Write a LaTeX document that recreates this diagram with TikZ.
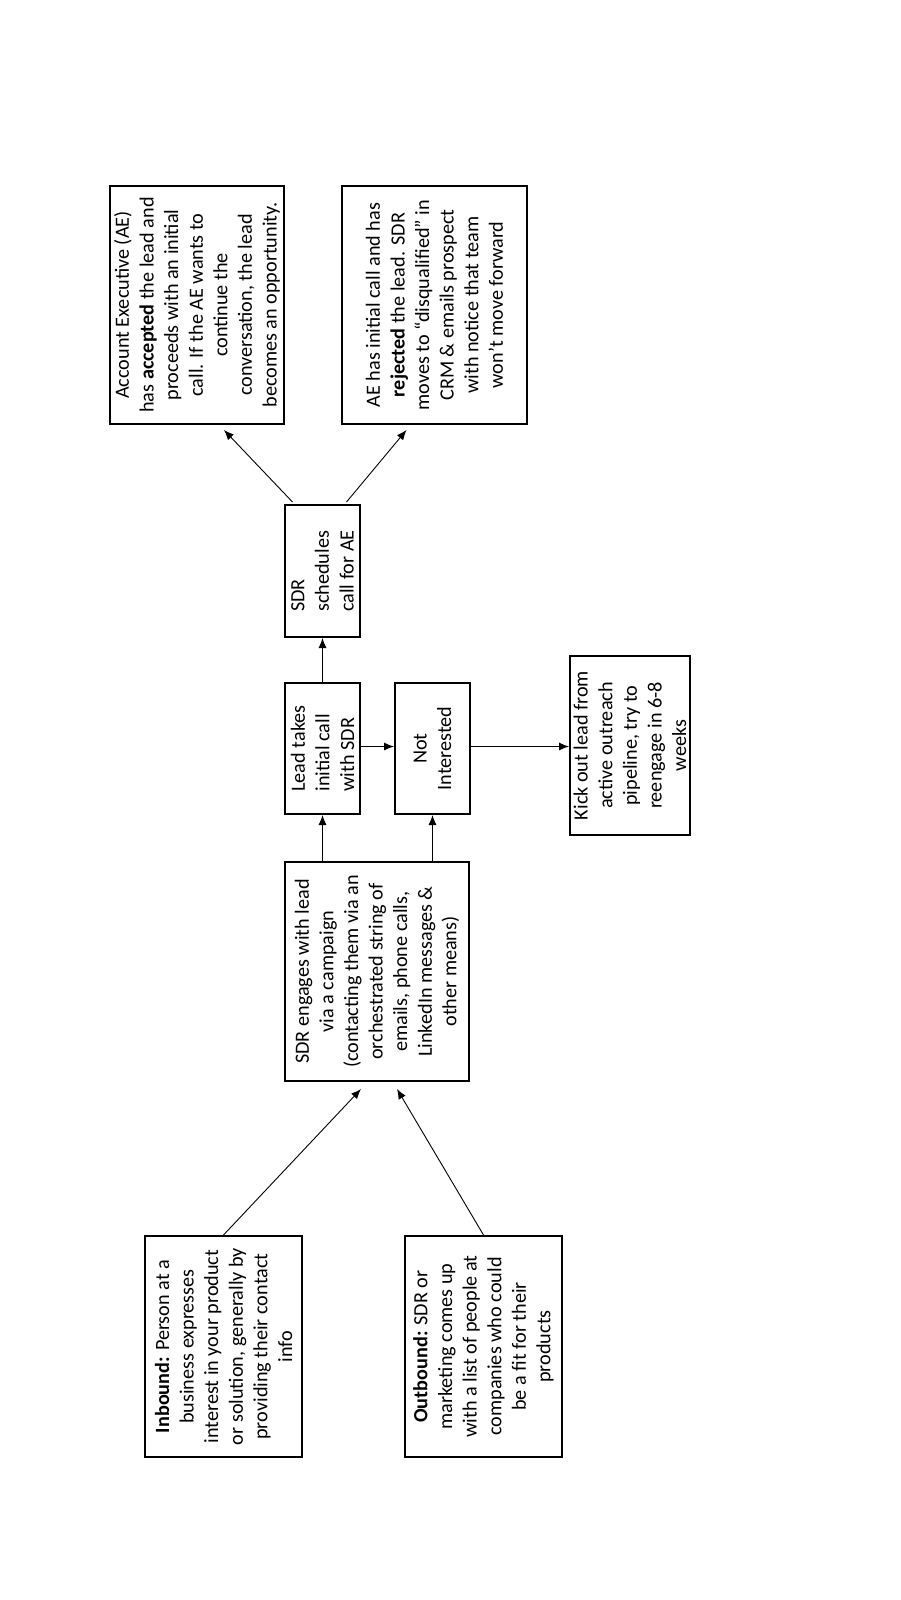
\documentclass[tikz,border=0pt]{standalone}
\usepackage{fontspec}
\setmainfont{Carlito}
\usetikzlibrary{calc,arrows.meta}

\begin{document}
\begin{tikzpicture}[x=1pt,y=-1pt,>={Latex[length=10pt,width=8pt]}]

% page, in pixels of the page image
\useasboundingbox (0,0) rectangle (900,1600);

% looks
\tikzset{
    stepBox/.style={
        draw=black,
        line width=2pt,
        rotate=90,
        inner sep=0pt,
        align=center,
        font=\fontsize{20.2}{24.6}\selectfont,
    },
    flowArrow/.style={->, line width=0.9pt},
}

% lead sources
\node[stepBox, minimum width=221pt, minimum height=157pt] (inbound) at (223.5,1346.5)
    {\textbf{Inbound:} Person at a\\ business expresses\\ interest in your product\\ or solution, generally by\\ providing their contact\\ info};
\node[stepBox, minimum width=221pt, minimum height=157pt] (outbound) at (483.5,1346.5)
    {\textbf{Outbound:} SDR or\\ marketing comes up\\ with a list of people at\\ companies who could\\ be a fit for their\\ products};

% campaign
\node[stepBox, minimum width=219pt, minimum height=184pt] (engage) at (377,971.5)
    {SDR engages with lead\\ via a campaign\\ (contacting them via an\\ orchestrated string of\\ emails, phone calls,\\ LinkedIn messages \&\\ other means)};

% outcome of the campaign
\node[stepBox, align=left, minimum width=131pt, minimum height=75pt] (leadCall) at (322.5,748.5)
    {Lead takes\\ initial call\\ with SDR};
\node[stepBox, minimum width=131pt, minimum height=75pt] (notInterested) at (432.5,748.5)
    {Not\\ Interested};
\node[stepBox, minimum width=179pt, minimum height=120pt] (kickOut) at (630,745.5)
    {Kick out lead from\\ active outreach\\ pipeline, try to\\ reengage in 6-8\\ weeks};

% hand over to the AE
\node[stepBox, align=left, minimum width=132pt, minimum height=75pt] (schedule) at (322.5,571)
    {SDR\\ schedules\\ call for AE};
\node[stepBox, minimum width=238pt, minimum height=174pt] (accepted) at (197,305)
    {Account Executive (AE)\\ has \textbf{accepted} the lead and\\ proceeds with an initial\\ call. If the AE wants to\\ continue the\\ conversation, the lead\\ becomes an opportunity.};
\node[stepBox, minimum width=238pt, minimum height=185pt] (rejected) at (434.5,305)
    {AE has initial call and has\\ \textbf{rejected} the lead. SDR\\ moves to “disqualified” in\\ CRM \& emails prospect\\ with notice that team\\ won’t move forward};

% arrows
\draw[flowArrow] (inbound.east) -- ([shift={(-16,7)}]engage.west);
\draw[flowArrow] (outbound.east) -- ([shift={(20,7)}]engage.west);
\draw[flowArrow] (leadCall |- engage.east) -- (leadCall.west);
\draw[flowArrow] (notInterested |- engage.east) -- (notInterested.west);
\draw[flowArrow] ([yshift=2pt]leadCall.south) -- ([yshift=2pt]notInterested.north);
\draw[flowArrow] ([yshift=2pt]notInterested.south) -- ([yshift=2pt]notInterested.south -| kickOut.north);
\draw[flowArrow] (leadCall.east) -- (schedule.west);
\draw[flowArrow] ([shift={(-30,-2)}]schedule.east) -- ([shift={(27,5)}]accepted.west);
\draw[flowArrow] ([shift={(24,-2)}]schedule.east) -- ([shift={(-28,5)}]rejected.west);

\end{tikzpicture}
\end{document}
